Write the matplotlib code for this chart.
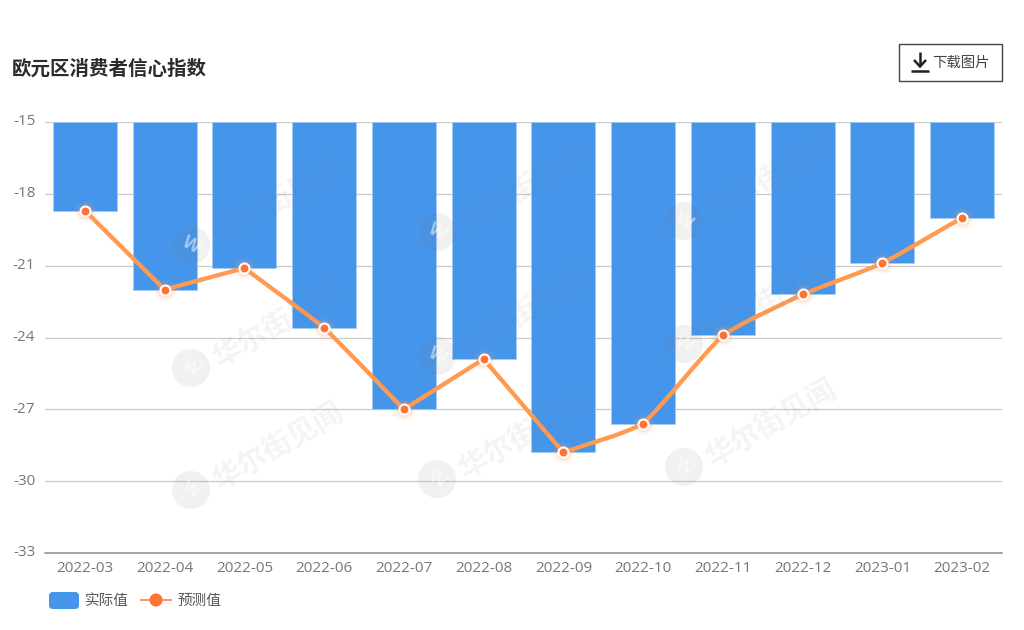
#!/usr/bin/env python
import matplotlib
matplotlib.use('Agg')
import matplotlib.pyplot as plt
from matplotlib.patches import FancyBboxPatch, Rectangle, Circle, PathPatch
from matplotlib.path import Path
from matplotlib.transforms import ScaledTranslation

plt.rcParams['font.family'] = ['Open Sans', 'Noto Sans CJK SC', 'DejaVu Sans']
plt.rcParams['axes.unicode_minus'] = False

months = ['2022-03', '2022-04', '2022-05', '2022-06', '2022-07', '2022-08',
          '2022-09', '2022-10', '2022-11', '2022-12', '2023-01', '2023-02']
actual = [-18.7, -22.0, -21.1, -23.6, -27.0, -24.9,
          -28.8, -27.6, -23.9, -22.2, -20.9, -19.0]
forecast = [-18.7, -22.0, -21.1, -23.6, -27.0, -24.9,
            -28.8, -27.6, -23.9, -22.2, -20.9, -19.0]
yticks = [-15, -18, -21, -24, -27, -30, -33]
title = '欧元区消费者信心指数'
watermark = '华尔街见闻'

W, H = 1024, 630
BLUE = '#4596EB'
ORANGE = '#FF9A50'
DOT = '#FF7433'


def smooth_path(xs, ys, k=0.4):
    # very light bezier smoothing, k=0 gives straight segments
    verts = [(xs[0], ys[0])]
    codes = [Path.MOVETO]
    n = len(xs)
    for i in range(n - 1):
        dx = xs[i + 1] - xs[i]
        dy = ys[i + 1] - ys[i]
        a = b = dy * 0.3
        # only points on a steady run get a shared tangent
        if i > 0 and (ys[i] - ys[i - 1]) * dy > 0:
            a = (1 - k) * a + k * 0.15 * (ys[i + 1] - ys[i - 1])
        if i < n - 2 and (ys[i + 2] - ys[i + 1]) * dy > 0:
            b = (1 - k) * b + k * 0.15 * (ys[i + 2] - ys[i])
        verts += [(xs[i] + 0.3 * dx, ys[i] + a),
                  (xs[i + 1] - 0.3 * dx, ys[i + 1] - b),
                  (xs[i + 1], ys[i + 1])]
        codes += [Path.CURVE4, Path.CURVE4, Path.CURVE4]
    return Path(verts, codes)


fig = plt.figure(figsize=(W / 100, H / 100), dpi=100, facecolor='white')

# plot area in pixels: x 45-1002, y 122-553
ax = fig.add_axes([45 / W, 1 - 553 / H, 957 / W, 431 / H])
ax.set_xlim(-0.5, 11.5)
ax.set_ylim(-33, -15)

# bars hang from the top of the axis
x = list(range(len(months)))
ax.bar(x, [v + 15 for v in actual], bottom=-15, width=0.8, color=BLUE,
       edgecolor='#A9CDF4', linewidth=0.5, zorder=2)
ax.set_yticks(yticks)
ax.set_xticks(x)
ax.set_xticklabels(months)
ax.grid(axis='y', color='#8A8A8A', alpha=0.45, linewidth=0.9, zorder=3)
ax.tick_params(axis='both', length=0, labelsize=11, labelcolor='#777777')
ax.tick_params(axis='x', pad=6)
ax.tick_params(axis='y', pad=7)
for lab in ax.get_yticklabels():
    lab.set_transform(lab.get_transform() + ScaledTranslation(0, 1.5 / 72, fig.dpi_scale_trans))
for s in ['top', 'left', 'right']:
    ax.spines[s].set_visible(False)
ax.spines['bottom'].set_color('#8C8C8C')
ax.spines['bottom'].set_linewidth(1.1)

# soft glow round the points
for size, alpha in [(16, 0.06), (13.5, 0.09), (11, 0.12)]:
    ax.plot(x, forecast, 'o', ms=size, color='#FF9A60', alpha=alpha, mew=0,
            zorder=4, clip_on=False)
ax.add_patch(PathPatch(smooth_path(x, forecast), fc='none', ec=ORANGE, lw=3.1,
                       zorder=5, clip_on=False, joinstyle='round'))
ax.plot(x, forecast, 'o', ms=7.2, color=DOT, mec='white', mew=1.5, zorder=6,
        clip_on=False)

# overlay in pixel coordinates for title, button, legend and watermark
ov = fig.add_axes([0, 0, 1, 1], facecolor='none')
ov.set_xlim(0, W)
ov.set_ylim(H, 0)
ov.axis('off')

ov.text(12, 70, title, fontsize=14, fontweight='bold', color='#2B2B2B',
        va='center', ha='left')

# download button
ov.add_patch(Rectangle((898.5, 43.5), 103, 37, fc='white', ec='#444444', lw=1))
ov.text(932.5, 63, '下载图片', fontsize=10.4, color='#444444', va='center', ha='left')
ov.plot([920, 920], [52, 66], color='#222222', lw=1.8, solid_capstyle='butt')
ov.plot([914, 920, 926], [60, 66.5, 60], color='#222222', lw=1.8,
        solid_joinstyle='miter', solid_capstyle='butt')
ov.plot([911, 929], [70.5, 70.5], color='#222222', lw=1.8, solid_capstyle='butt')

# legend
ov.add_patch(FancyBboxPatch((49, 592), 30, 17, boxstyle='round,pad=0,rounding_size=4',
                            fc=BLUE, ec='none'))
ov.text(85, 601, '实际值', fontsize=10.5, color='#555555', va='center', ha='left')
ov.plot([141, 171], [600, 600], color=DOT, lw=1.1)
ov.add_patch(Circle((156, 600), 6.6, fc=DOT, ec='none'))
ov.text(177, 601, '预测值', fontsize=10.5, color='#555555', va='center', ha='left')

# watermark grid, drawn faintly over the chart
marks = [(191, 245), (191, 368), (191, 490),
         (437, 232), (437, 356), (437, 479),
         (684, 221), (684, 344), (684, 467)]
for mx, my in marks:
    ov.add_patch(Circle((mx, my), 19, fc='#777777', ec='none', alpha=0.1, zorder=1))
    ov.text(mx, my, 'W', fontsize=13, color='white', alpha=0.5, rotation=-30,
            ha='center', va='center', fontweight='bold', zorder=2)
    ov.text(mx + 88, my - 42, watermark, fontsize=21, color='#777777', alpha=0.08,
            rotation=30, rotation_mode='anchor', ha='center', va='center',
            fontweight='bold', zorder=1)

fig.savefig('out.png', dpi=100)
